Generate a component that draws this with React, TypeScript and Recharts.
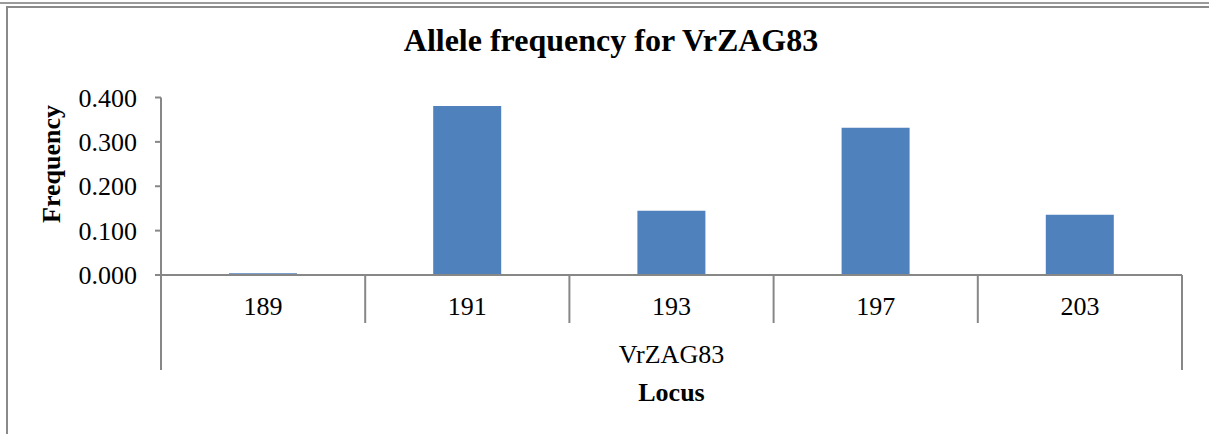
import React from 'react';
import { BarChart, Bar, XAxis, YAxis, Label } from 'recharts';

// ---- data ----
const alleles = ['189', '191', '193', '197', '203'];
const frequencies = [0.004, 0.381, 0.145, 0.332, 0.136];
const locusName = 'VrZAG83';
const yTicks = [0, 0.1, 0.2, 0.3, 0.4];
const chartTitle = 'Allele frequency for VrZAG83';
const yTitle = 'Frequency';
const xTitle = 'Locus';

const data = alleles.map((a, i) => ({ allele: a, freq: frequencies[i], locus: locusName }));

// ---- layout ----
const W = 1209;
const H = 434;
const M = { top: 97.5, right: 27, bottom: 64, left: 0 };
const Y_AXIS_W = 161;
const PLOT_W = W - M.left - Y_AXIS_W - M.right;
const X1_H = 48;
const X2_H = 47;
const FONT = '"Liberation Serif", "Times New Roman", serif';
const AXIS_COLOR = '#878787';
const BAR_COLOR = '#4F81BD';

const AlleleTick = (props: any) => {
  const { x, y, payload, index } = props;
  const bw = PLOT_W / alleles.length;
  const last = index === alleles.length - 1;
  return (
    <g>
      <line x1={x - bw / 2} x2={x - bw / 2} y1={y} y2={y + X1_H} stroke={AXIS_COLOR} strokeWidth={2} />
      {last && (
        <line x1={x + bw / 2} x2={x + bw / 2} y1={y} y2={y + X1_H} stroke={AXIS_COLOR} strokeWidth={2} />
      )}
      <text x={x} y={y + 40} textAnchor="middle" fontSize={26} fill="#000" fontFamily={FONT}>
        {payload.value}
      </text>
    </g>
  );
};

const LocusTick = (props: any) => {
  const { x, y, payload } = props;
  const bw = PLOT_W;
  return (
    <g>
      <line x1={x - bw / 2} x2={x - bw / 2} y1={y} y2={y + X2_H} stroke={AXIS_COLOR} strokeWidth={2} />
      <line x1={x + bw / 2} x2={x + bw / 2} y1={y} y2={y + X2_H} stroke={AXIS_COLOR} strokeWidth={2} />
      <text x={x} y={y + 40} textAnchor="middle" fontSize={26} fill="#000" fontFamily={FONT}>
        {payload.value}
      </text>
    </g>
  );
};

const XTitle = (props: any) => {
  const vb = props.viewBox || {};
  const cx = vb.x + vb.width / 2;
  const by = vb.y + vb.height + 31;
  return (
    <text x={cx} y={by} textAnchor="middle" fontSize={26} fontWeight="bold" fill="#000" fontFamily={FONT}>
      {xTitle}
    </text>
  );
};

const YTitle = (props: any) => {
  const vb = props.viewBox || {};
  const lx = vb.x + 60;
  const ly = 164;
  return (
    <text
      x={lx}
      y={ly}
      textAnchor="middle"
      fontSize={26}
      fontWeight="bold"
      fill="#000"
      fontFamily={FONT}
      transform={`rotate(-90, ${lx}, ${ly})`}
    >
      {yTitle}
    </text>
  );
};

export default function App() {
  return (
    <div style={{ position: 'absolute', left: 0, top: 0, width: W, height: H, background: '#fff', overflow: 'hidden' }}>
      {/* frame lines */}
      <div style={{ position: 'absolute', left: 0, top: 2, width: W, height: 2, background: '#9a9a9a' }} />
      <div style={{ position: 'absolute', left: 6, top: 6, width: W - 6, height: 2, background: '#8a8a8a' }} />
      <div style={{ position: 'absolute', left: 6, top: 6, width: 2, height: H - 6, background: '#8a8a8a' }} />

      <div style={{ position: 'absolute', left: 0, top: 0 }}>
        <BarChart width={W} height={H} data={data} margin={M}>
          <XAxis
            dataKey="allele"
            xAxisId={0}
            height={X1_H}
            interval={0}
            tickSize={0}
            tickMargin={0}
            tickLine={false}
            axisLine={{ stroke: AXIS_COLOR, strokeWidth: 2 }}
            tick={<AlleleTick />}
          />
          <XAxis
            dataKey="locus"
            xAxisId="locus"
            allowDuplicatedCategory={false}
            height={X2_H}
            interval={0}
            tickSize={0}
            tickMargin={0}
            tickLine={false}
            axisLine={false}
            tick={<LocusTick />}
          >
            <Label content={<XTitle />} />
          </XAxis>
          <YAxis
            width={Y_AXIS_W}
            domain={[0, 0.4]}
            ticks={yTicks}
            interval={0}
            tickFormatter={(v: number) => v.toFixed(3)}
            tickSize={6}
            tickMargin={18}
            tick={{ fontSize: 26, fill: '#000', fontFamily: FONT }}
            axisLine={{ stroke: AXIS_COLOR, strokeWidth: 2 }}
            tickLine={{ stroke: AXIS_COLOR, strokeWidth: 2 }}
          >
            <Label content={<YTitle />} />
          </YAxis>
          <Bar dataKey="freq" xAxisId={0} fill={BAR_COLOR} barSize={68} isAnimationActive={false} />
        </BarChart>
      </div>

      <svg width={W} height={70} style={{ position: 'absolute', left: 0, top: 0 }}>
        <text x={611} y={51} textAnchor="middle" fontSize={32} fontWeight="bold" fill="#000" fontFamily={FONT}>
          {chartTitle}
        </text>
      </svg>
    </div>
  );
}
